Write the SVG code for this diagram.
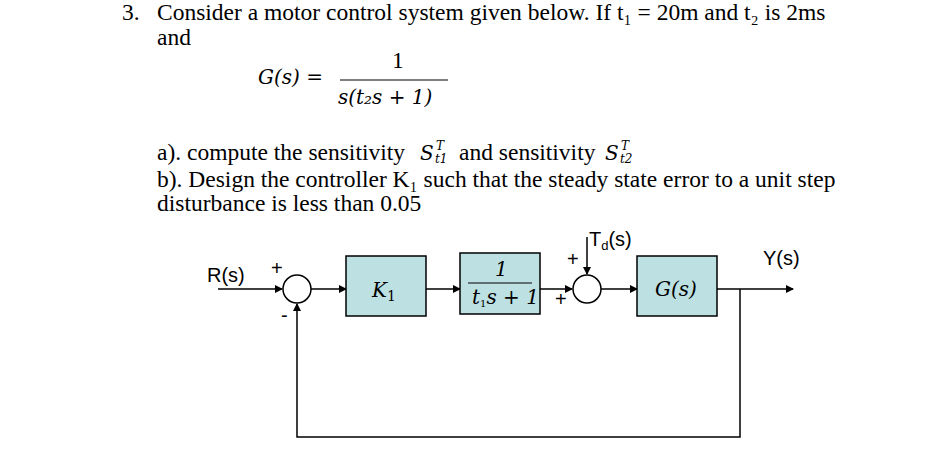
<svg xmlns="http://www.w3.org/2000/svg" width="945" height="455" viewBox="0 0 945 455">
<style>
.t{font-family:"Liberation Serif",serif;font-size:23.5px;fill:#000}
.m{font-family:"DejaVu Serif",serif;font-style:italic;font-size:20px;fill:#000}
.sub{font-family:"DejaVu Serif",serif;font-style:italic;font-size:12px;fill:#000}
.s{font-family:"Liberation Sans",sans-serif;font-size:20px;fill:#000}
.b{fill:#bde0e3;stroke:#000;stroke-width:1.5}
.c{fill:#fff;stroke:#000;stroke-width:1.5}
.l{fill:none;stroke:#000;stroke-width:1.5}
</style>
<defs><marker id="a" markerWidth="8" markerHeight="8" refX="7" refY="4" orient="auto" markerUnits="userSpaceOnUse"><path d="M0,0L8,4L0,8z"/></marker></defs>
<rect width="945" height="455" fill="#fff"/>
<text class="t" x="122" y="20">3.</text>
<text class="t" x="157" y="20">Consider a motor control system given below. If t₁ = 20m and t₂ is 2ms</text>
<text class="t" x="157" y="45">and</text>
<text class="m" x="258" y="84" font-size="22">G(s) =</text>
<text class="t" x="392" y="68">1</text>
<line x1="340" y1="80" x2="448" y2="80" stroke="#000" stroke-width="1.2"/>
<text class="m" x="338" y="104" font-size="21">s(t₂s + 1)</text>
<text class="t" x="157" y="160">a). compute the sensitivity</text>
<text class="m" x="420" y="160" font-size="22">S</text>
<text class="sub" x="436" y="150">T</text>
<text class="sub" x="435" y="163">t1</text>
<text class="t" x="459" y="160">and sensitivity</text>
<text class="m" x="605" y="160" font-size="22">S</text>
<text class="sub" x="621" y="150">T</text>
<text class="sub" x="620" y="163">t2</text>
<text class="t" x="157" y="187">b). Design the controller K₁ such that the steady state error to a unit step</text>
<text class="t" x="157" y="211">disturbance is less than 0.05</text>
<g id="connectors">
<line class="l" x1="218" y1="289" x2="282" y2="289" marker-end="url(#a)"/>
<line class="l" x1="311" y1="289" x2="346" y2="289" marker-end="url(#a)"/>
<line class="l" x1="426" y1="289" x2="460" y2="289" marker-end="url(#a)"/>
<line class="l" x1="540" y1="289" x2="572" y2="289" marker-end="url(#a)"/>
<line class="l" x1="587" y1="237" x2="587" y2="274" marker-end="url(#a)"/>
<line class="l" x1="601" y1="289" x2="637" y2="289" marker-end="url(#a)"/>
<line class="l" x1="717" y1="289" x2="793" y2="289" marker-end="url(#a)"/>
<polyline class="l" points="740,289 740,437 297,437 297,304" marker-end="url(#a)"/>
</g>
<g id="sum1"><circle class="c" cx="297" cy="289" r="14"/></g>
<g id="k1"><rect class="b" x="346" y="256" width="80" height="60"/><text class="m" x="372" y="297">K<tspan font-style="normal" font-size="14" dy="4">1</tspan></text></g>
<g id="lag"><rect class="b" x="460" y="253" width="80" height="61"/><text class="m" x="495" y="276" font-size="15" font-style="normal">1</text><line x1="468" y1="283" x2="532" y2="283" stroke="#000" stroke-width="1"/><text class="m" x="472" y="304" font-size="14">t<tspan font-size="10" font-style="normal" dy="3">1</tspan><tspan dy="-3">s + 1</tspan></text></g>
<g id="sum2"><circle class="c" cx="587" cy="289" r="14"/></g>
<g id="g"><rect class="b" x="637" y="256" width="80" height="60"/><text class="m" x="655" y="296">G(s)</text></g>
<text class="s" x="207" y="282">R(s)</text>
<text class="s" x="271" y="275" font-size="18">+</text>
<text class="s" x="281" y="322" font-size="20">-</text>
<text class="s" x="567" y="266" font-size="18">+</text>
<text class="s" x="555" y="306" font-size="18">+</text>
<text class="s" x="589" y="246">T<tspan font-size="13" dy="4">d</tspan><tspan dy="-4">(s)</tspan></text>
<text class="s" x="763" y="265">Y(s)</text>
</svg>
